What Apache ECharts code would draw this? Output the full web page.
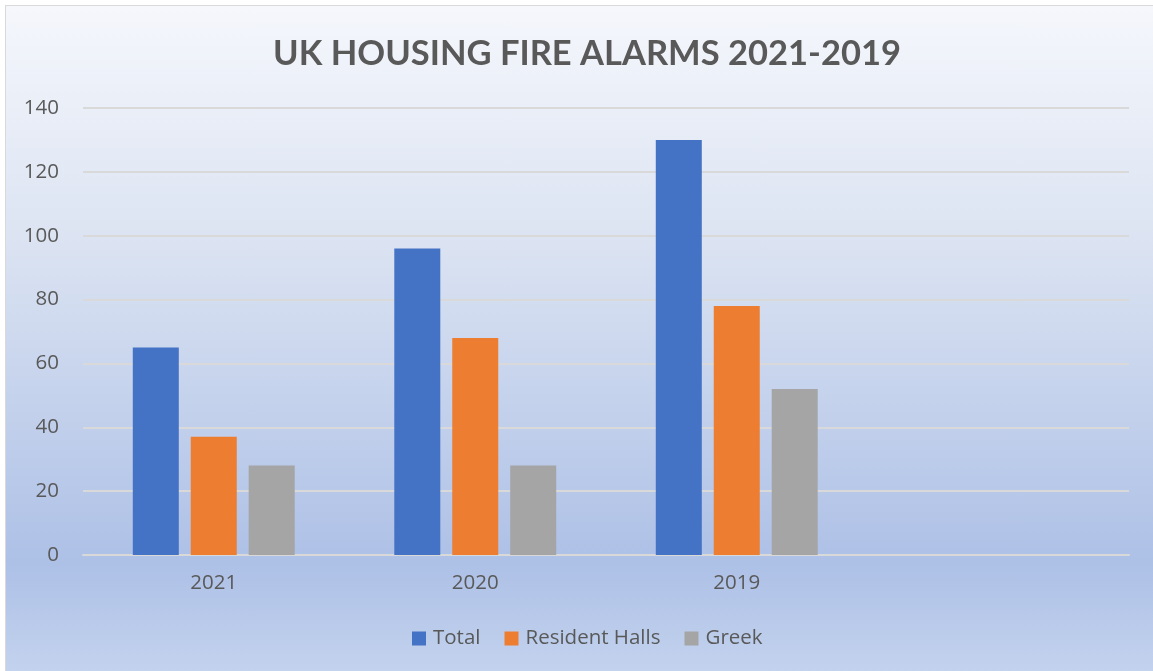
<!DOCTYPE html>
<html>
<head>
<meta charset="utf-8">
<script src="https://cdn.jsdelivr.net/npm/echarts@6/dist/echarts.min.js"></script>
<style>
html,body{margin:0;padding:0;background:#ffffff;}
#bg{position:absolute;left:5px;top:5px;width:1160px;height:680px;border:1px solid #d9d9d9;
background:linear-gradient(to bottom,#f5f7fc 0%,#dbe3f2 35%,#adc0e6 82%,#c6d5ef 100%);}
#chart{position:absolute;left:0;top:0;width:1153px;height:671px;}
</style>
</head>
<body>
<div id="bg"></div>
<div id="chart"></div>
<script>
const categories = ['2021', '2020', '2019', ''];
const totalValues = [65, 96, 130, null];
const residentHallsValues = [37, 68, 78, null];
const greekValues = [28, 28, 52, null];
const seriesNames = ['Total', 'Resident Halls', 'Greek'];
const chartTitle = 'UK HOUSING FIRE ALARMS 2021-2019';

const chart = echarts.init(document.getElementById('chart'), null, {renderer: 'canvas'});
const textColor = '#595959';
const font = '"Open Sans", "Noto Sans", sans-serif';
chart.setOption({
  backgroundColor: 'transparent',
  animation: false,
  title: {
    text: chartTitle,
    left: 582,
    top: 31,
    textAlign: 'center',
    textStyle: {fontFamily: 'Lato, "Open Sans", sans-serif', fontWeight: 'bold', fontSize: 34.5, color: textColor}
  },
  legend: {
    data: seriesNames,
    left: 412,
    top: 628,
    padding: 0,
    icon: 'rect',
    itemWidth: 14,
    itemHeight: 14,
    itemGap: 24,
    textStyle: {fontFamily: font, fontSize: 20.5, color: textColor, padding: [0, 0, 0, 2]}
  },
  grid: {left: 83, right: 24, top: 108, bottom: 116, containLabel: false},
  xAxis: {
    type: 'category',
    data: categories,
    axisLine: {lineStyle: {color: '#d9d9d9', width: 2}},
    axisTick: {show: false},
    axisLabel: {fontFamily: font, fontSize: 20.5, color: textColor, margin: 18}
  },
  yAxis: {
    type: 'value',
    min: 0, max: 140, interval: 20,
    axisLine: {show: false},
    axisTick: {show: false},
    axisLabel: {fontFamily: font, fontSize: 20.5, color: textColor, margin: 24},
    splitLine: {lineStyle: {color: '#d9d9d9', width: 2}}
  },
  series: [
    {name: seriesNames[0], type: 'bar', data: totalValues, barWidth: 46, barGap: '26%', itemStyle: {color: '#4472c4'}},
    {name: seriesNames[1], type: 'bar', data: residentHallsValues, barWidth: 46, barGap: '26%', itemStyle: {color: '#ed7d31'}},
    {name: seriesNames[2], type: 'bar', data: greekValues, barWidth: 46, barGap: '26%', itemStyle: {color: '#a5a5a5'}}
  ]
});
</script>
</body>
</html>
